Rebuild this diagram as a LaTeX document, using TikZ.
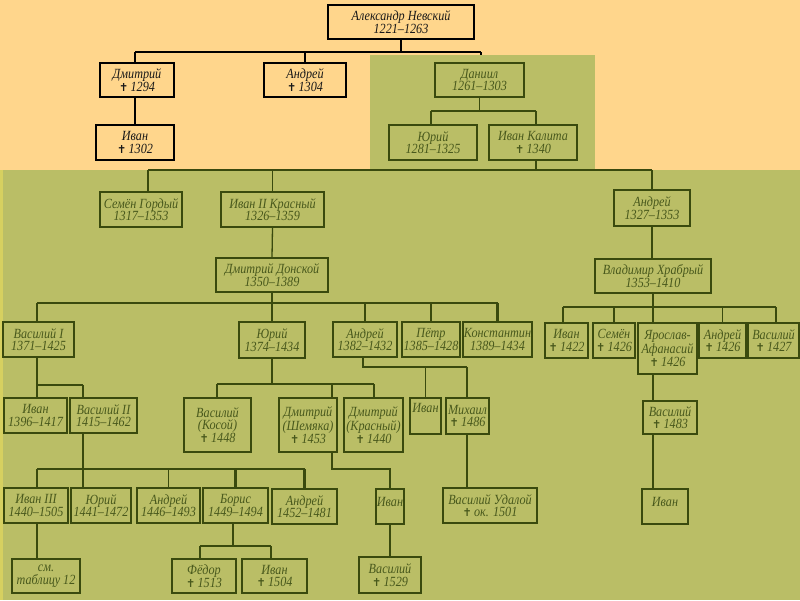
\documentclass[tikz,border=0pt]{standalone}
\usepackage{fontspec}
\setmainfont{Liberation Serif}[FakeStretch=0.87]
\newfontfamily\symf{DejaVu Sans}
\newcommand\crs{{\symf\fontsize{11}{11}\selectfont ✝}\,}
\definecolor{orbg}{RGB}{255,214,140}
\definecolor{grbg}{RGB}{186,190,102}
\definecolor{gline}{RGB}{58,74,14}
\definecolor{gtext}{RGB}{72,88,28}
\definecolor{ystrip}{RGB}{214,208,96}
\newcommand\bx[6]{\node[box, minimum width={(#4-#2)*1pt}, minimum height={(#5-#3)*1pt}] (#1) at ({(#2+#4)/2},{(#3+#5)/2}) {#6};}
\newcommand\obx[6]{\node[box, draw=black, text=black!90, minimum width={(#4-#2)*1pt}, minimum height={(#5-#3)*1pt}] (#1) at ({(#2+#4)/2},{(#3+#5)/2}) {#6};}
\tikzset{
  box/.style={draw=gline, line width=1.4pt, text=gtext, font=\fontsize{14}{12.5}\selectfont\itshape, align=center, inner sep=0pt},
  thk/.style={draw=gline, line width=2.6pt},
  thn/.style={draw=gline, line width=1.3pt},
  obus/.style={draw=black, line width=2pt},
  ostem/.style={draw=black, line width=1.4pt}
}
\begin{document}
\begin{tikzpicture}[x=1pt,y=-1pt]
\useasboundingbox (0,0) rectangle (800,600);
\fill[orbg] (0,0) rectangle (800,600);
\fill[grbg] (0,170) rectangle (800,600);
\fill[grbg] (370,55) rectangle (595,170);
\fill[ystrip] (0,170) rectangle (3,600);

% top generation
\obx{nev}{328}{5}{474}{39}{Александр Невский\\1221–1263}
\obx{dm}{100}{63}{174}{97}{Дмитрий\\\crs 1294}
\obx{ivA}{96}{125}{174}{160}{Иван\\\crs 1302}
\obx{anA}{264}{63}{346}{97}{Андрей\\\crs 1304}
\bx{dan}{435}{63}{524}{97}{Даниил\\1261–1303}
\bx{yuA}{389}{125}{477}{160}{Юрий\\1281–1325}
\bx{ik}{489}{125}{577}{160}{Иван Калита\\\crs 1340}

\coordinate (t1) at (135,52);
\coordinate (t2) at (481,52);
\draw[obus] (t1) -- (t2);
\draw[ostem] (nev.south) -- (nev.south |- t1);
\draw[ostem] (t1) -- (t1 |- dm.north);
\draw[ostem] (dm.south -| t1) -- (ivA.north -| t1);
\draw[ostem] (anA.north) -- (anA.north |- t1);
\draw[ostem] (t2) -- ++(0,3);

\coordinate (d1) at (431,111);
\coordinate (d2) at (536,111);
\draw[thn] (dan.south) -- (dan.south |- d1);
\draw[thn] (d1) -- (d2);
\draw[thn] (d1) -- (d1 |- yuA.north);
\draw[thn] (d2) -- (d2 |- ik.north);

% Kalita's sons
\bx{sem}{100}{192}{182}{227}{Семён Гордый\\1317–1353}
\bx{ivB}{221}{192}{324}{227}{Иван II Красный\\1326–1359}
\bx{anB}{614}{190}{690}{226}{Андрей\\1327–1353}
\bx{don}{216}{258}{328}{292}{Дмитрий Донской\\1350–1389}
\bx{vl}{595}{259}{711}{293}{Владимир Храбрый\\1353–1410}

\coordinate (m1) at (148,170);
\coordinate (m2) at (652,170);
\draw[thn] (ik.south -| d2) -- (d2 |- m1);
\draw[thn] (m1) -- (m2);
\draw[thn] (m1) -- (m1 |- sem.north);
\draw[thn] (ivB.north) -- (ivB.north |- m1);
\draw[thn] (anB.north) -- (anB.north |- m1);
\draw[thn] (ivB.south) -- (don.north);
\draw[thn] (anB.south) -- (anB.south |- vl.north);

% Donskoy's sons
\bx{vaA}{3}{322}{74}{357}{Василий I\\1371–1425}
\bx{yuB}{239}{322}{305}{358}{Юрий\\1374–1434}
\bx{anC}{333}{322}{397}{357}{Андрей\\1382–1432}
\bx{pet}{402}{322}{460}{357}{Пётр\\1385–1428}
\bx{kon}{463}{322}{532}{357}{Константин\\1389–1434}

\coordinate (b1) at (37,303);
\draw[thk] (don.south) -- (don.south |- b1);
\draw[thk] (b1) -- (kon.north |- b1);
\draw[thk] (b1) -- (b1 |- vaA.north);
\draw[thn] (yuB.north) -- (yuB.north |- b1);
\draw[thn] (anC.north) -- (anC.north |- b1);
\draw[thn] (pet.north) -- (pet.north |- b1);
\draw[thk] (kon.north) -- (kon.north |- b1);

% Vladimir's sons
\bx{ivC}{545}{323}{588}{358}{Иван\\\crs 1422}
\bx{semB}{593}{323}{635}{358}{Семён\\\crs 1426}
\bx{yar}{638}{323}{697}{374}{Ярослав-\\Афанасий\\\crs 1426}
\bx{anD}{699}{323}{746}{358}{Андрей\\\crs 1426}
\bx{vaB}{748}{323}{799}{358}{Василий\\\crs 1427}
\bx{vaC}{643}{401}{697}{434}{Василий\\\crs 1483}
\bx{ivD}{642}{489}{688}{524}{\raisebox{10pt}{Иван}}

\coordinate (v1) at (563,307);
\coordinate (v2) at (776,307);
\draw[thn] (v1) -- (v2);
\draw[thn] (vl.south) -- (vl.south |- yar.north);
\draw[thn] (v1) -- (v1 |- ivC.north);
\draw[thn] (semB.north) -- (semB.north |- v1);
\draw[thn] (anD.north) -- (anD.north |- v1);
\draw[thn] (v2) -- (v2 |- vaB.north);
\draw[thn] (yar.south -| vl.south) -- (vaC.north -| vl.south);
\draw[thn] (vaC.south -| vl.south) -- (ivD.north -| vl.south);

% Vasily I's sons
\bx{ivE}{4}{398}{67}{433}{Иван\\1396–1417}
\bx{vaD}{70}{398}{137}{433}{Василий II\\1415–1462}
\coordinate (w1) at (37,385);
\coordinate (w2) at (83,385);
\draw[thk] (vaA.south -| w1) -- (w1) -- (w2);
\draw[thk] (w1) -- (w1 |- ivE.north);
\draw[thk] (w2) -- (w2 |- vaD.north);

% Yury's sons
\bx{kos}{184}{398}{251}{452}{Василий\\(Косой)\\\crs 1448}
\bx{sh}{279}{398}{337}{452}{Дмитрий\\(Шемяка)\\\crs 1453}
\bx{kr}{344}{398}{403}{452}{Дмитрий\\(Красный)\\\crs 1440}
\coordinate (z1) at (217,384);
\coordinate (zs) at (332,384);
\coordinate (z2) at (374,384);
\draw[thn] (yuB.south) -- (yuB.south |- z1);
\draw[thn] (z1) -- (z2);
\draw[thn] (z1) -- (z1 |- kos.north);
\draw[thn] (zs) -- (zs |- sh.north);
\draw[thn] (z2) -- (z2 |- kr.north);

% Andrey's sons
\bx{ivF}{410}{398}{441}{434}{\raisebox{16pt}{Иван}}
\bx{mih}{446}{398}{489}{434}{Михаил\\\crs 1486}
\bx{vu}{443}{488}{537}{523}{Василий Удалой\\\crs ок. 1501}
\coordinate (a1) at (363,367);
\coordinate (a2) at (467,367);
\draw[thn] (anC.south -| a1) -- (a1) -- (a2);
\draw[thn] (ivF.north) -- (ivF.north |- a1);
\draw[thn] (a2) -- (a2 |- mih.north);
\draw[thn] (mih.south -| a2) -- (vu.north -| a2);

% Vasily II's sons
\bx{ivG}{4}{488}{68}{523}{Иван III\\1440–1505}
\bx{yuC}{71}{488}{131}{523}{Юрий\\1441–1472}
\bx{anE}{137}{488}{200}{523}{Андрей\\1446–1493}
\bx{bor}{203}{488}{268}{523}{Борис\\1449–1494}
\bx{anF}{272}{489}{337}{524}{Андрей\\1452–1481}
\coordinate (x1) at (37,469);
\draw[thk] (vaD.south -| w2) -- (yuC.north -| w2);
\draw[thk] (x1) -- (anF.north |- x1);
\draw[thk] (x1) -- (x1 |- ivG.north);
\draw[thn] (anE.north) -- (anE.north |- x1);
\draw[thk] (bor.north) -- (bor.north |- x1);
\draw[thk] (anF.north) -- (anF.north |- x1);

% Shemyaka's line
\bx{ivH}{376}{489}{404}{524}{\raisebox{10pt}{Иван}}
\bx{vaE}{359}{557}{421}{593}{Василий\\\crs 1529}
\coordinate (s1) at (332,469);
\draw[thk] (sh.south -| zs) -- (s1) -| (ivH.north);
\draw[thk] (ivH.south) -- (vaE.north);

% bottom row
\bx{smt}{12}{559}{80}{593}{см.\\таблицу 12}
\bx{fed}{172}{559}{236}{593}{Фёдор\\\crs 1513}
\bx{ivI}{242}{559}{307}{593}{Иван\\\crs 1504}
\draw[thn] (ivG.south -| x1) -- (smt.north -| x1);
\coordinate (y1) at (200,546);
\coordinate (y2) at (271,546);
\draw[thk] (bor.south -| 233,0) -- (233,546);
\draw[thk] (y1) -- (y2);
\draw[thk] (y1) -- (y1 |- fed.north);
\draw[thk] (y2) -- (y2 |- ivI.north);
\end{tikzpicture}
\end{document}
